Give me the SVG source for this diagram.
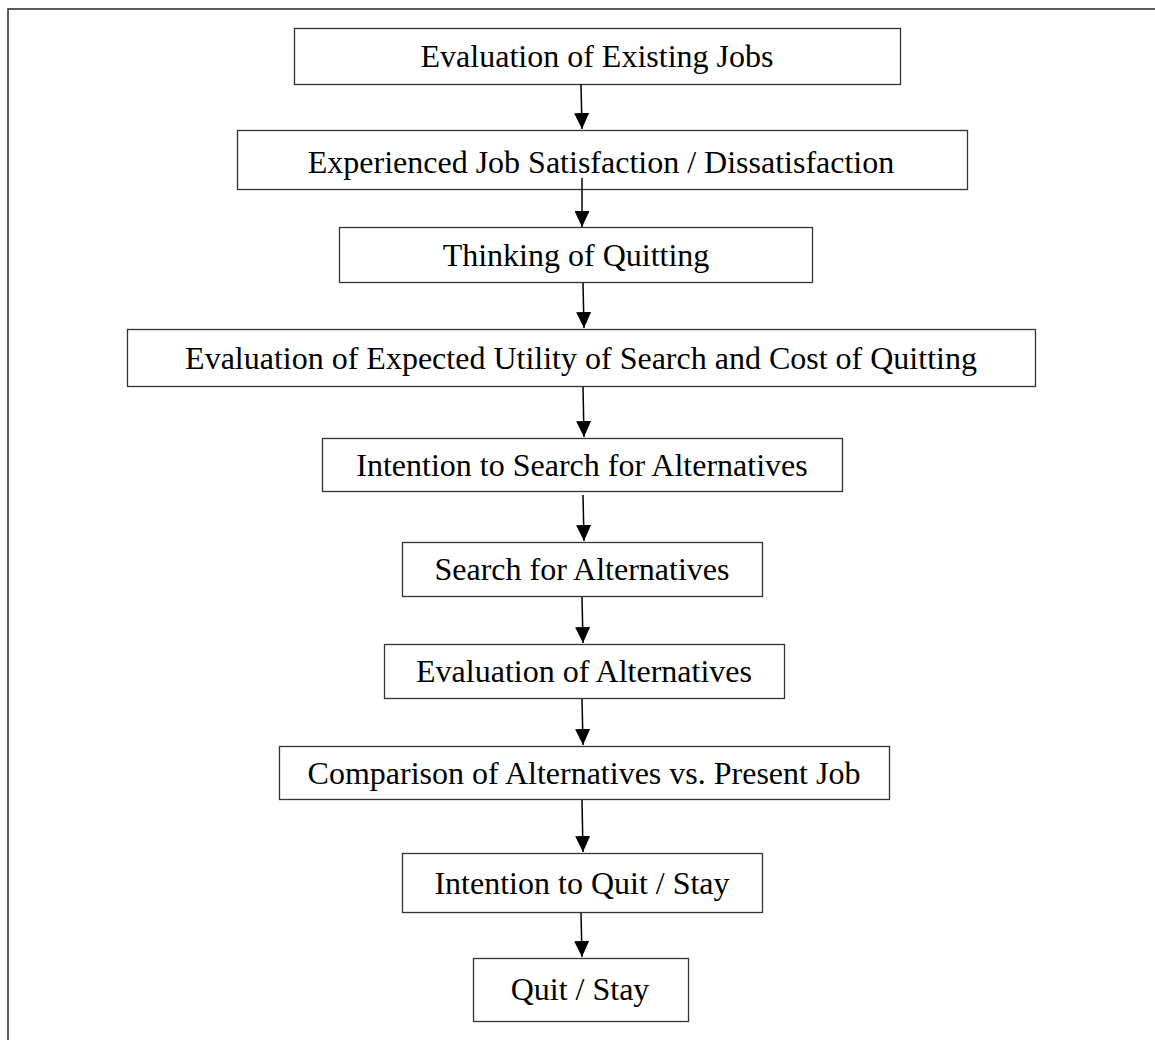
<svg xmlns="http://www.w3.org/2000/svg" width="1155" height="1040" viewBox="0 0 1155 1040">
  <defs>
    <marker id="ah" markerWidth="16" markerHeight="15" refX="16" refY="7.5" orient="auto" markerUnits="userSpaceOnUse" viewBox="0 0 16 15">
      <path d="M0,0 L16,7.5 L0,15 Z" fill="#000"/>
    </marker>
  </defs>
  <style>
    .box { fill: #fff; stroke: #333; stroke-width: 1.3; }
    .lbl { font-family: "Liberation Serif", "Times New Roman", serif; font-size: 32px; fill: #000; text-anchor: middle; }
    .conn { stroke: #000; stroke-width: 1.5; fill: none; }
    .frame { fill: none; stroke: #333; stroke-width: 1.6; }
  </style>
  <rect width="1155" height="1040" fill="#fff"/>
  <rect class="frame" x="8" y="9" width="1200" height="1100"/>

  <g id="n1"><rect class="box" x="294.5" y="28.5" width="606" height="56"/><text class="lbl" x="597" y="67">Evaluation of Existing Jobs</text></g>
  <g id="n2"><rect class="box" x="237.5" y="130.5" width="730" height="59"/><text class="lbl" x="601" y="173">Experienced Job Satisfaction / Dissatisfaction</text></g>
  <g id="n3"><rect class="box" x="339.5" y="227.5" width="473" height="55"/><text class="lbl" x="576" y="266">Thinking of Quitting</text></g>
  <g id="n4"><rect class="box" x="127.5" y="329.5" width="908" height="57"/><text class="lbl" x="581" y="369">Evaluation of Expected Utility of Search and Cost of Quitting</text></g>
  <g id="n5"><rect class="box" x="322.5" y="438.5" width="520" height="53"/><text class="lbl" x="582" y="476">Intention to Search for Alternatives</text></g>
  <g id="n6"><rect class="box" x="402.5" y="542.5" width="360" height="54"/><text class="lbl" x="582" y="580">Search for Alternatives</text></g>
  <g id="n7"><rect class="box" x="384.5" y="644.5" width="400" height="54"/><text class="lbl" x="584" y="682">Evaluation of Alternatives</text></g>
  <g id="n8"><rect class="box" x="279.5" y="746.5" width="610" height="53"/><text class="lbl" x="584" y="784">Comparison of Alternatives vs. Present Job</text></g>
  <g id="n9"><rect class="box" x="402.5" y="853.5" width="360" height="59"/><text class="lbl" x="582" y="894">Intention to Quit / Stay</text></g>
  <g id="n10"><rect class="box" x="473.5" y="958.5" width="215" height="63"/><text class="lbl" x="580" y="1000">Quit / Stay</text></g>

  <g id="connectors">
    <line class="conn" x1="581" y1="84" x2="582" y2="129" marker-end="url(#ah)"/>
    <line class="conn" x1="582" y1="178" x2="582" y2="227" marker-end="url(#ah)"/>
    <line class="conn" x1="583" y1="283" x2="584" y2="328" marker-end="url(#ah)"/>
    <line class="conn" x1="583" y1="387" x2="584" y2="437" marker-end="url(#ah)"/>
    <line class="conn" x1="583" y1="495" x2="584" y2="541" marker-end="url(#ah)"/>
    <line class="conn" x1="582" y1="597" x2="583" y2="643" marker-end="url(#ah)"/>
    <line class="conn" x1="582" y1="699" x2="583" y2="745" marker-end="url(#ah)"/>
    <line class="conn" x1="582" y1="800" x2="583" y2="852" marker-end="url(#ah)"/>
    <line class="conn" x1="581" y1="913" x2="582" y2="957" marker-end="url(#ah)"/>
  </g>
</svg>
